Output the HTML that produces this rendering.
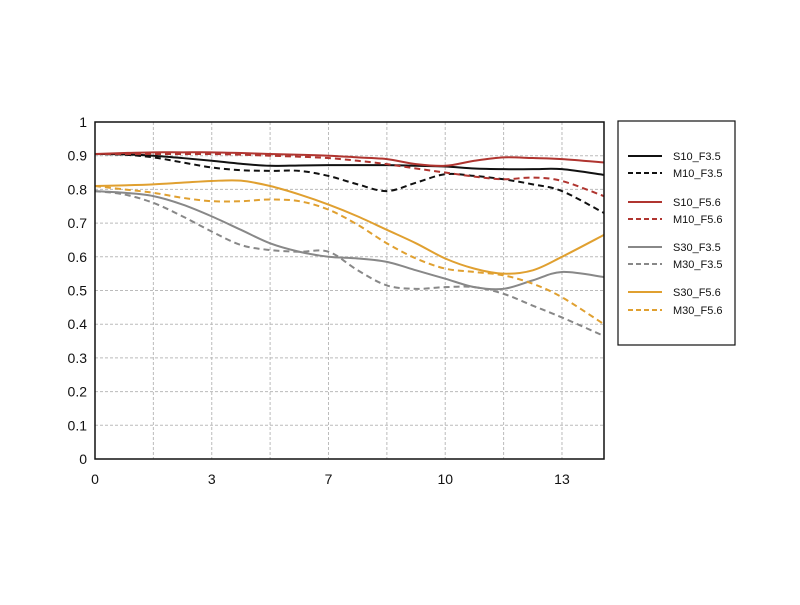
<!DOCTYPE html>
<html><head><meta charset="utf-8"><style>
body{margin:0;background:#fff}
text{font-family:"Liberation Sans",sans-serif;fill:#111}
</style></head><body>
<svg id="chart" width="800" height="600"></svg>
<script>
const xs=[0,0.5,1,1.5,2,2.5,3,3.5,4,4.5,5,5.5,6,6.5,7,7.5,8,8.72];
const xTickLabels=["0","3","7","10","13"];
const xTickIdx=[0,2,4,6,8];
const yTicks=[0,0.1,0.2,0.3,0.4,0.5,0.6,0.7,0.8,0.9,1];
const yTickLabels=["0","0.1","0.2","0.3","0.4","0.5","0.6","0.7","0.8","0.9","1"];
const seriesNames=["S10_F3.5","M10_F3.5","S10_F5.6","M10_F5.6","S30_F3.5","M30_F3.5","S30_F5.6","M30_F5.6"];
const s10f35=[.905,.904,.9,.893,.885,.876,.87,.871,.872,.872,.872,.87,.868,.862,.86,.86,.86,.843];
const m10f35=[.905,.903,.895,.88,.865,.857,.855,.855,.84,.815,.795,.82,.845,.84,.83,.815,.795,.73];
const s10f56=[.905,.908,.91,.91,.91,.908,.905,.903,.9,.895,.89,.875,.87,.885,.895,.893,.89,.88];
const m10f56=[.905,.905,.905,.905,.905,.903,.9,.897,.893,.885,.875,.862,.85,.838,.83,.835,.825,.78];
const s30f35=[.795,.79,.78,.755,.72,.68,.64,.615,.60,.595,.585,.56,.535,.51,.505,.53,.555,.54];
const m30f35=[.795,.785,.76,.72,.675,.635,.62,.615,.615,.56,.515,.505,.51,.51,.49,.455,.42,.365];
const s30f56=[.81,.812,.815,.82,.825,.826,.81,.785,.755,.72,.68,.64,.595,.565,.55,.56,.6,.665];
const m30f56=[.81,.80,.79,.775,.765,.765,.77,.765,.74,.695,.64,.595,.565,.555,.545,.52,.48,.40];
const seriesVals=[s10f35,m10f35,s10f56,m10f56,s30f35,m30f35,s30f56,m30f56];
const colors=["#111","#111","#b03530","#b03530","#888","#888","#e0a030","#e0a030"];

const L=95,R=604,T=122,B=459,XMAX=8.72;
const X=v=>L+v/XMAX*(R-L);
const Y=v=>B-v*(B-T);
const svg=document.getElementById('chart');
const NS="http://www.w3.org/2000/svg";
function mk(tag,attrs,parent){const e=document.createElementNS(NS,tag);for(const k in attrs)e.setAttribute(k,attrs[k]);(parent||svg).appendChild(e);return e;}

// grid
for(let i=1;i<=8;i++){const g=mk('line',{x1:X(i),x2:X(i),y1:T,y2:B,stroke:'#bbb','stroke-dasharray':'3,2','stroke-width':1});

}
yTicks.forEach((v,i)=>{
 if(v>0&&v<1){const g=mk('line',{x1:L,x2:R,y1:Y(v),y2:Y(v),stroke:'#bbb','stroke-dasharray':'3,2','stroke-width':1});
 
 }
 const t=mk('text',{x:L-8,y:Y(v)+5,'text-anchor':'end','font-size':14});t.textContent=yTickLabels[i];
 
 
});
xTickIdx.forEach((ix,i)=>{
 const t=mk('text',{x:X(ix),y:B+25,'text-anchor':'middle','font-size':14});t.textContent=xTickLabels[i];
 
 
});
function smooth(pts){let d=`M${pts[0][0]},${pts[0][1]}`;
 for(let i=0;i<pts.length-1;i++){const p0=pts[i-1]||pts[i],p1=pts[i],p2=pts[i+1],p3=pts[i+2]||p2;
 const c1=[p1[0]+(p2[0]-p0[0])/6,p1[1]+(p2[1]-p0[1])/6],c2=[p2[0]-(p3[0]-p1[0])/6,p2[1]-(p3[1]-p1[1])/6];
 d+=` C${c1[0]},${c1[1]} ${c2[0]},${c2[1]} ${p2[0]},${p2[1]}`;}return d;}
seriesVals.forEach((vals,si)=>{
 const pts=vals.map((v,i)=>[X(xs[i]),Y(v)]);
 const p=mk('path',{d:smooth(pts),fill:'none',stroke:colors[si],'stroke-width':2,'stroke-dasharray':si%2?'6,4':'none'});
 
 
});
const frame=mk('rect',{x:L,y:T,width:R-L,height:B-T,fill:'none',stroke:'#111','stroke-width':1.5});


// legend
const lg=mk('g',{});


mk('rect',{x:618,y:121,width:117,height:224,fill:'#fff',stroke:'#111','stroke-width':1.2},lg);
const ly=[156,173,202,219,247,264,292,310];
seriesNames.forEach((n,i)=>{
 const e=mk('g',{},lg);
 
 
 mk('line',{x1:628,x2:662,y1:ly[i],y2:ly[i],stroke:colors[i],'stroke-width':2,'stroke-dasharray':i%2?'5,3':'none'},e);
 const t=mk('text',{x:673,y:ly[i]+4,'font-size':11},e);t.textContent=n;
});
</script>
</body></html>
